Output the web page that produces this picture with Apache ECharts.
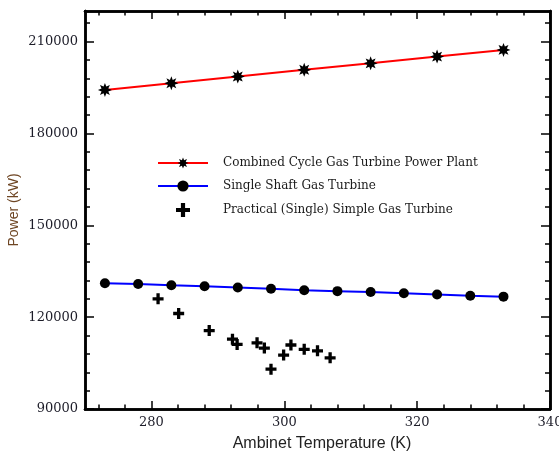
<!DOCTYPE html>
<html>
<head>
<meta charset="utf-8">
<script src="https://cdn.jsdelivr.net/npm/echarts@6/dist/echarts.min.js"></script>
<style>
  html, body { margin: 0; padding: 0; background: #fff; }
  #main { width: 559px; height: 452px; }
</style>
</head>
<body>
<div id="main"></div>
<script>
// data
var combinedT = [273, 283, 293, 303, 313, 323, 333];
var combinedP = [194200, 196400, 198600, 200800, 202900, 205100, 207300];

var shaftT = [273, 278, 283, 288, 293, 298, 303, 308, 313, 318, 323, 328, 333];
var shaftP = [131100, 130800, 130400, 130100, 129700, 129300, 128800, 128500, 128200, 127800, 127400, 127000, 126700];

var practicalT = [281.0, 284.1, 288.7, 292.2, 292.9, 295.9, 297.0, 298.0, 299.9, 301.0, 303.0, 305.0, 306.9];
var practicalP = [126000, 121200, 115600, 112800, 111100, 111600, 109900, 103000, 107600, 110900, 109500, 109000, 106700];

var xTicks = [280, 300, 320, 340];
var yTicks = [90000, 120000, 150000, 180000, 210000];

var legendNames = [
  'Combined Cycle Gas Turbine Power Plant',
  'Single Shaft Gas Turbine',
  'Practical (Single) Simple Gas Turbine'
];

function pairs(xs, ys) {
  return xs.map(function (x, i) { return [x, ys[i]]; });
}

function minorOf(majors, from, to, step) {
  var out = [];
  for (var v = from; v <= to; v += step) {
    if (majors.indexOf(v) < 0) out.push(v);
  }
  return out;
}
var xMinor = minorOf(xTicks, 272, 340, 4);
var yMinor = minorOf(yTicks, 96000, 216000, 6000);

// 8 point asterisk and thick plus as marker shapes
function starPath() {
  var p = '';
  for (var k = 0; k < 16; k++) {
    var a = k * Math.PI / 8 - Math.PI / 2;
    var r = (k % 2 === 0) ? 50 : 26;
    p += (k === 0 ? 'M' : 'L') + (50 + r * Math.cos(a)).toFixed(2) + ',' + (50 + r * Math.sin(a)).toFixed(2);
  }
  return 'path://' + p + 'Z';
}
var STAR = starPath();
var PLUS = 'path://M35,0H65V35H100V65H65V100H35V65H0V35H35Z';

var labelFont = { fontFamily: 'DejaVu Serif', fontSize: 13, color: '#1c1c28' };

function frameAxis(position, min, max, values, length, labels) {
  var ax = {
    type: 'value',
    position: position,
    min: min,
    max: max,
    splitLine: { show: false },
    axisLine: { show: true, onZero: false, lineStyle: { color: '#000', width: 2.5 } },
    axisTick: { show: true, inside: true, length: length, customValues: values,
                lineStyle: { color: '#000', width: 1.5 } },
    axisLabel: { show: false }
  };
  if (labels) {
    ax.axisLabel = Object.assign({
      show: true, margin: 7, customValues: labels,
      formatter: function (v) { return String(v); }
    }, labelFont);
  }
  return ax;
}

var xMain = frameAxis('bottom', 270, 340, xTicks, 8, xTicks);
xMain.name = 'Ambinet Temperature (K)';
xMain.nameLocation = 'middle';
xMain.nameGap = 27;
xMain.nameTextStyle = { fontFamily: 'Liberation Sans', fontSize: 16, color: '#222', padding: [0, 0, 0, 9] };

var yMain = frameAxis('left', 90000, 220000, yTicks, 9, yTicks);
yMain.name = 'Power (kW)';
yMain.nameLocation = 'middle';
yMain.nameGap = 64;
yMain.nameMoveOverlap = false;
yMain.nameTextStyle = { fontFamily: 'Liberation Sans', fontSize: 14, color: '#6e4624' };

var chart = echarts.init(document.getElementById('main'), null, { renderer: 'canvas' });

chart.setOption({
  animation: false,
  backgroundColor: '#fff',
  grid: { left: 85, right: 9, top: 11, bottom: 43, containLabel: false, outerBoundsMode: 'none' },
  legend: {
    orient: 'vertical',
    left: 152,
    top: 152,
    itemWidth: 50,
    itemHeight: 14,
    itemGap: 11,
    textStyle: { fontFamily: 'DejaVu Serif', fontSize: 12, color: '#1a1a1a', padding: [0, 0, 0, 10] },
    data: [
      { name: legendNames[0] },
      { name: legendNames[1] },
      { name: legendNames[2], icon: PLUS, itemStyle: { color: '#000', opacity: 1 } }
    ]
  },
  xAxis: [
    xMain,
    frameAxis('bottom', 270, 340, xMinor, 4.5, null),
    frameAxis('top', 270, 340, xTicks, 8, null),
    frameAxis('top', 270, 340, xMinor, 4.5, null)
  ],
  yAxis: [
    yMain,
    frameAxis('left', 90000, 220000, yMinor, 5, null),
    frameAxis('right', 90000, 220000, yTicks, 9, null),
    frameAxis('right', 90000, 220000, yMinor, 5, null)
  ],
  series: [
    {
      name: legendNames[0],
      type: 'line',
      data: pairs(combinedT, combinedP),
      symbol: STAR,
      symbolSize: 14,
      lineStyle: { color: '#ff0000', width: 2 },
      itemStyle: { color: '#000' },
      z: 3
    },
    {
      name: legendNames[1],
      type: 'line',
      data: pairs(shaftT, shaftP),
      symbol: 'circle',
      symbolSize: 10,
      lineStyle: { color: '#0000ff', width: 2 },
      itemStyle: { color: '#000' },
      z: 3
    },
    {
      name: legendNames[2],
      type: 'scatter',
      data: pairs(practicalT, practicalP),
      symbol: PLUS,
      symbolSize: 11,
      itemStyle: { color: '#000', opacity: 1 },
      z: 3
    }
  ]
});
</script>
</body>
</html>
